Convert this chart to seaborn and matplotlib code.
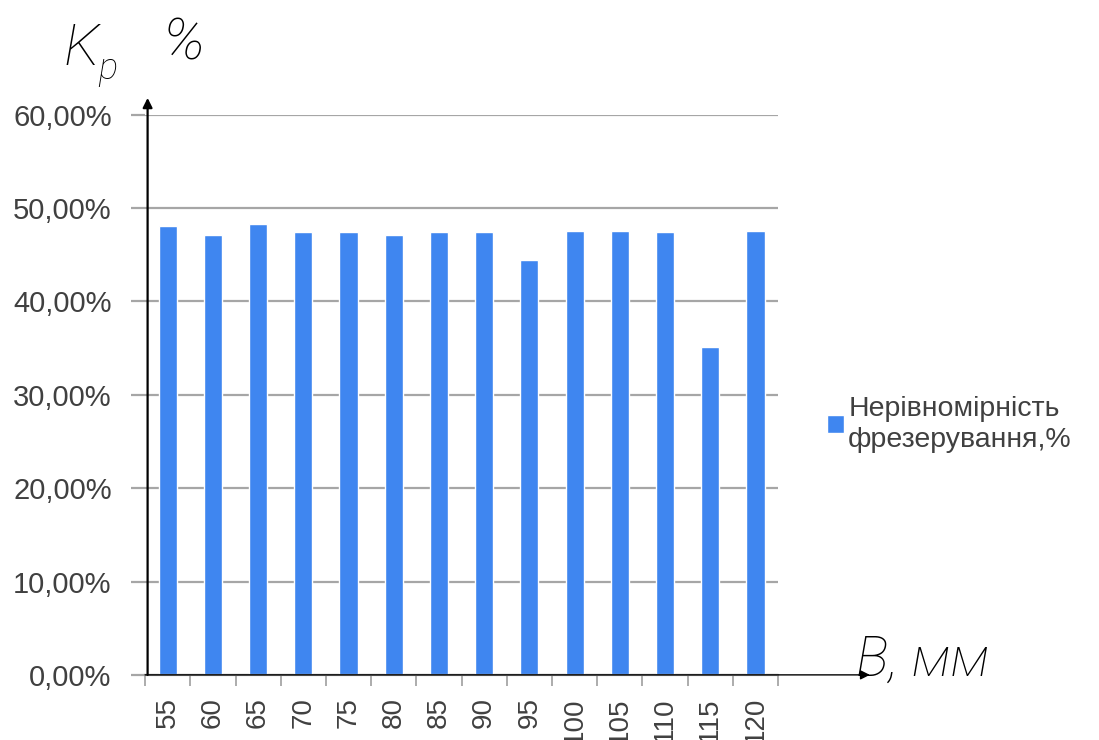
import matplotlib
matplotlib.use("Agg")
import matplotlib.pyplot as plt
import seaborn as sns
import pandas as pd
from matplotlib.ticker import FuncFormatter, FixedLocator

# Milling width B, mm and non-uniformity of milling, fraction
widths = ["55", "60", "65", "70", "75", "80", "85", "90", "95",
          "100", "105", "110", "115", "120"]
nonuniformity = [0.4804, 0.4714, 0.4829, 0.4739, 0.4739, 0.4714, 0.4739,
                 0.4739, 0.4443, 0.4757, 0.4757, 0.4739, 0.3514, 0.4757]
series_label = "Нерівномірність\nфрезерування,%"
y_ticks = [0.0, 0.1, 0.2, 0.3, 0.4, 0.5, 0.6]

df = pd.DataFrame({"B": widths, "Kp": nonuniformity})

sns.set_theme(style="white")
plt.rcParams["font.family"] = ["Liberation Sans", "DejaVu Sans"]

fig = plt.figure(figsize=(10.99, 7.40), dpi=100)
ax = fig.add_axes([0.132, 0.088, 0.576, 0.757])

bar_color = "#3F86F0"
text_color = "#404040"
grid_color = "#a6a6a6"

sns.barplot(data=df, x="B", y="Kp", color=bar_color, width=0.4,
            saturation=1, label=series_label, ax=ax)

ax.set_ylim(0, 0.6)
ax.set_xlim(-0.5, len(widths) - 0.5)
ax.yaxis.set_major_locator(FixedLocator(y_ticks))
ax.yaxis.set_major_formatter(
    FuncFormatter(lambda v, _: f"{v * 100:.2f}%".replace(".", ",")))
ax.grid(axis="y", color=grid_color, linewidth=1.6)
ax.set_axisbelow(True)
for s in ["top", "right", "left"]:
    ax.spines[s].set_visible(False)
ax.spines["bottom"].set_color(grid_color)
ax.spines["bottom"].set_linewidth(1.6)

ax.set_xlabel("")
ax.set_ylabel("")
ax.tick_params(axis="y", length=10, width=1.6, color=grid_color,
               labelsize=21, labelcolor=text_color, pad=14, left=True)
ax.tick_params(axis="x", which="major", length=0, labelsize=20,
               labelcolor=text_color, rotation=90, pad=16)
ax.set_xticks([i - 0.5 for i in range(len(widths) + 1)], minor=True)
ax.tick_params(axis="x", which="minor", length=8, width=1.3,
               color=grid_color, bottom=True)

# Arrowed coordinate axes
ax.annotate("", xy=(0.004, 1.03), xytext=(0.004, 0.0),
            xycoords="axes fraction",
            arrowprops=dict(arrowstyle="-|>", color="black", lw=1.6,
                            mutation_scale=14, shrinkA=0, shrinkB=0),
            annotation_clip=False)
ax.annotate("", xy=(1.145, 0.0), xytext=(0.0, 0.0),
            xycoords="axes fraction",
            arrowprops=dict(arrowstyle="-|>", color="black", lw=1.0,
                            mutation_scale=14, shrinkA=0, shrinkB=0),
            annotation_clip=False)

# Axis symbols
sym = dict(family=["Roboto", "DejaVu Sans"], style="italic",
           weight="light", color="black")
fig.text(0.058, 0.912, "K", fontsize=42, va="baseline", **sym)
fig.text(0.089, 0.893, "p", fontsize=26, va="baseline", **sym)
fig.text(0.148, 0.920, "%", fontsize=42, va="baseline", **sym)
fig.text(0.779, 0.087, "B, мм", fontsize=40, va="baseline", **sym)

leg = ax.legend(loc="center left", bbox_to_anchor=(0.729, 0.427),
                bbox_transform=fig.transFigure, frameon=False,
                fontsize=20.5, handlelength=0.6, handleheight=0.6,
                handletextpad=0.15, labelspacing=0.2)
for t in leg.get_texts():
    t.set_color(text_color)
    t.set_linespacing(1.25)

fig.savefig("out.png", dpi=100)
